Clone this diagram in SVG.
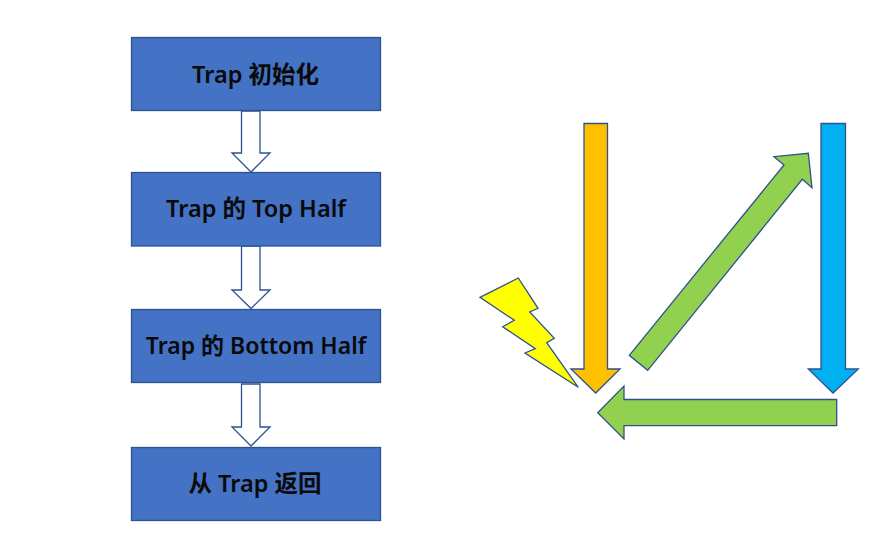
<svg xmlns="http://www.w3.org/2000/svg" width="894" height="548" viewBox="0 0 894 548">
<style>
.box{fill:#4472c4;stroke:#2f528f;stroke-width:1.3}
.lbl{font-family:"Noto Sans","Noto Sans CJK SC",sans-serif;font-size:23.500px;font-weight:600;fill:#0a0a0a;text-anchor:middle}
.flow{fill:#fff;stroke:#2f528f;stroke-width:1.3}
.shape{stroke:#2f528f;stroke-width:1.3;stroke-linejoin:miter}
</style>
<rect width="894" height="548" fill="#fff"/>
<g id="connectors">
<path id="c1" class="flow" d="M241.500 111V153H232L251 172L270 153H260V111Z"/>
<path id="c2" class="flow" d="M241.500 246V290H232L251 308.500L270 290H260V246Z"/>
<path id="c3" class="flow" d="M241.500 384V427H232L251 446L270 427H260V384Z"/>
</g>
<g id="n1"><rect class="box" x="131.500" y="37.500" width="249" height="73"/><text class="lbl" x="255.500" y="83">Trap 初始化</text></g>
<g id="n2"><rect class="box" x="131.500" y="172.500" width="249" height="73.500"/><text class="lbl" x="256" y="217">Trap 的 Top Half</text></g>
<g id="n3"><rect class="box" x="131.500" y="309.500" width="249" height="73"/><text class="lbl" x="256" y="354" style="font-size:23px">Trap 的 Bottom Half</text></g>
<g id="n4"><rect class="box" x="131.500" y="447.500" width="249" height="73"/><text class="lbl" x="255" y="492">从 Trap 返回</text></g>
<g id="bolt"><path class="shape" fill="#ffff00" d="M480 297.300L518.300 278L538 308.300L529.700 312L554.300 338.300L546.700 342.700L578.300 387.300L525 353L535.300 348.700L502.700 326.700L514.300 320.300Z"/></g>
<g id="orange"><path class="shape" fill="#ffc000" d="M584 123.500H607.500V369H620L595.700 393L571 369H584Z"/></g>
<g id="blue"><path class="shape" fill="#00b0f0" d="M821 123.500H845.500V369H858.300L833 393L808.300 369H821Z"/></g>
<g id="green-left"><path class="shape" fill="#92d050" d="M836.700 399.500V425.700H624V439L597.700 412.700L624 386V399.500Z"/></g>
<g id="green-diag"><path class="shape" fill="#92d050" d="M629.300 355.300L784 165L774 156.700L808.300 153.300L812 187.700L802.300 179.300L647.700 370.300Z"/></g>
</svg>
